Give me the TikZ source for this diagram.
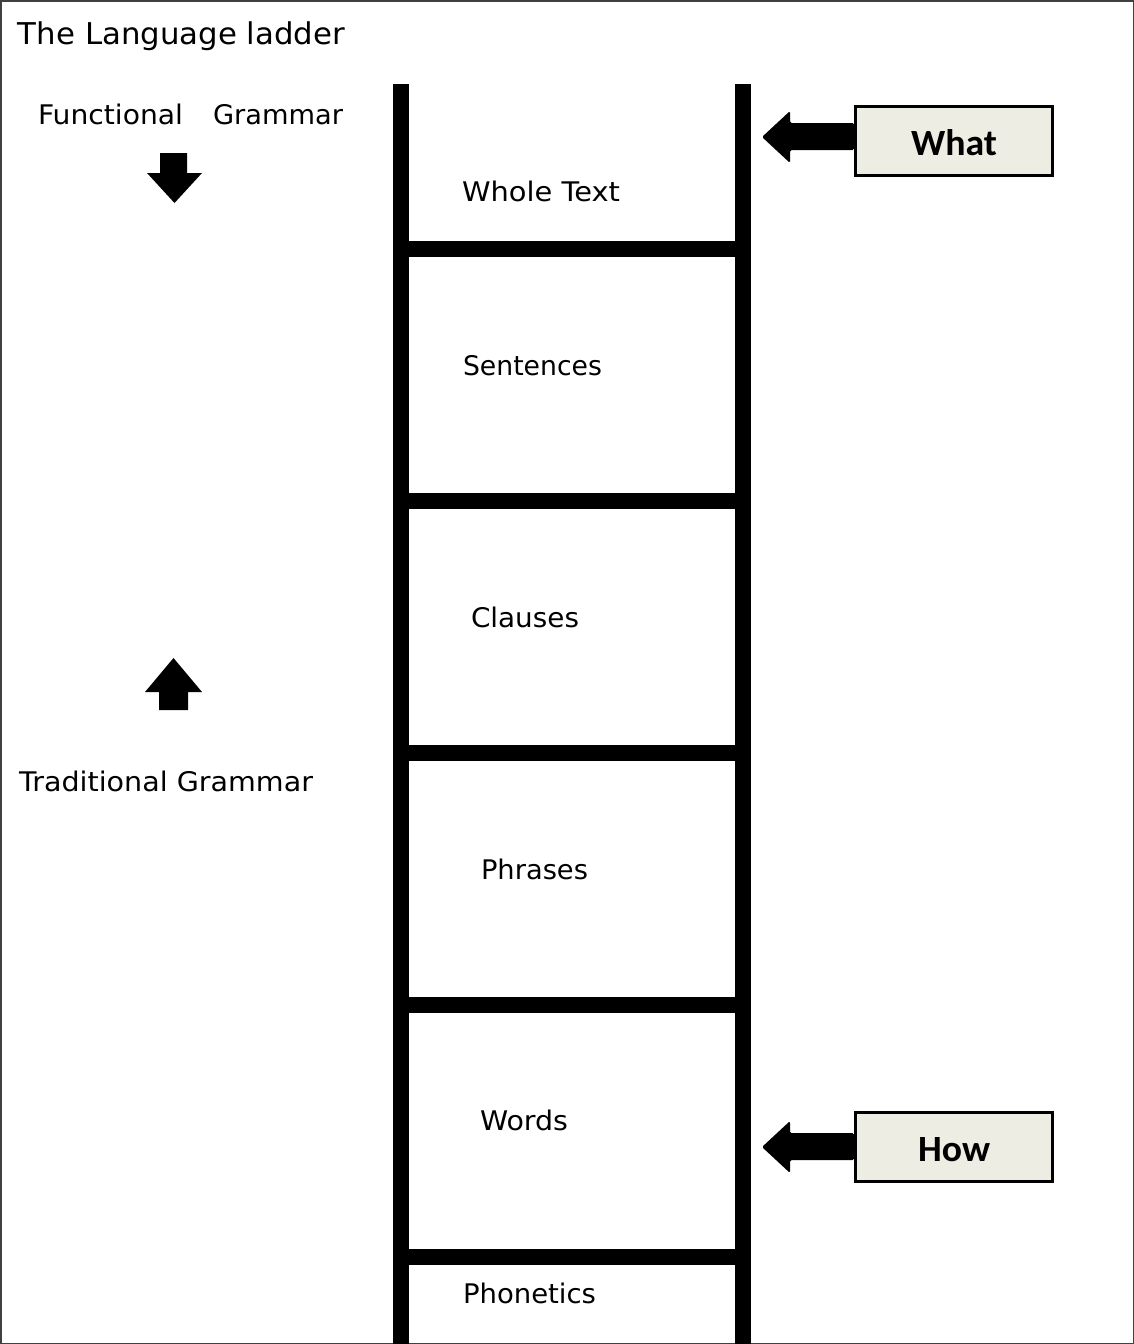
\documentclass[tikz,border=0pt]{standalone}
\usepackage{fontspec}
\setmainfont{DejaVu Sans}
\newfontfamily\boxfont{Carlito}
\usepackage{graphicx}
\usetikzlibrary{calc}
\definecolor{boxfill}{RGB}{238,237,228}
\newcommand{\fitw}[2]{\resizebox{#1pt}{\height}{#2}}
\begin{document}
\begin{tikzpicture}[x=1pt,y=-1pt,
  lbl/.style={anchor=base west, inner sep=0pt, outer sep=0pt, font=\fontsize{27}{27}\selectfont},
  titlelbl/.style={anchor=base west, inner sep=0pt, outer sep=0pt, font=\fontsize{30}{30}\selectfont},
  railbar/.style={fill=black},
  labelbox/.style={draw=black, line width=3pt, fill=boxfill, minimum width=197pt, minimum height=69pt,
    inner sep=0pt, text height=28pt, text depth=0pt, font=\boxfont\bfseries\fontsize{37}{37}\selectfont},
  blockarrow/.style={fill=black, rounded corners=1.5pt},
  bigarrow/.style={fill=black}]
\useasboundingbox (0,0) rectangle (1134,1344);
% frame
\draw[line width=1.5pt, draw=black!75] (0.75,0.75) rectangle (1133.25,1343.25);
% ladder rails
\fill[railbar] (393,84) rectangle (409,1344);
\fill[railbar] (735,84) rectangle (751,1344);
% rungs
\foreach \c in {249,501,753,1005,1257}{
  \fill[railbar] (409,\c-8) rectangle (735,\c+8);
}
% title and side labels
\node[titlelbl] (title) at (18,44) {\fitw{327}{The Language ladder}};
\node[lbl] (func) at (38,124) {\fitw{145}{Functional}};
\node[lbl] (gram1) at (213,124) {\fitw{130}{Grammar}};
\node[lbl] (trad) at (19,791) {\fitw{294}{Traditional Grammar}};
% ladder labels
\node[lbl] (whole) at (462,201) {\fitw{158}{Whole Text}};
\node[lbl] (sent) at (463,375) {\fitw{139}{Sentences}};
\node[lbl] (claus) at (471,627) {\fitw{108}{Clauses}};
\node[lbl] (phras) at (481,879) {\fitw{107}{Phrases}};
\node[lbl] (words) at (480,1130) {\fitw{88}{Words}};
\node[lbl] (phon) at (463,1303) {\fitw{133}{Phonetics}};
% down arrow
\fill[bigarrow] (160,153) -- (187,153) -- (187,173) -- (202,173) -- (174.5,203) -- (147,173) -- (160,173) -- cycle;
% up arrow
\fill[bigarrow] (159,710) -- (188,710) -- (188,692) -- (202,692) -- (173.5,658) -- (145,692) -- (159,692) -- cycle;
% boxes
\node[labelbox] (what) at (954,141) {\fitw{86}{What}};
\node[labelbox] (how) at (954,1147) {\fitw{72}{How}};
% block arrows
\fill[blockarrow] (what.west |- 0,123) -- (790,123) -- (790,111) -- (762,137) -- (790,163) -- (790,150) -- (what.west |- 0,150) -- cycle;
\fill[blockarrow] (how.west |- 0,1133) -- (790,1133) -- (790,1121) -- (762,1147) -- (790,1173) -- (790,1160) -- (how.west |- 0,1160) -- cycle;
\end{tikzpicture}
\end{document}
